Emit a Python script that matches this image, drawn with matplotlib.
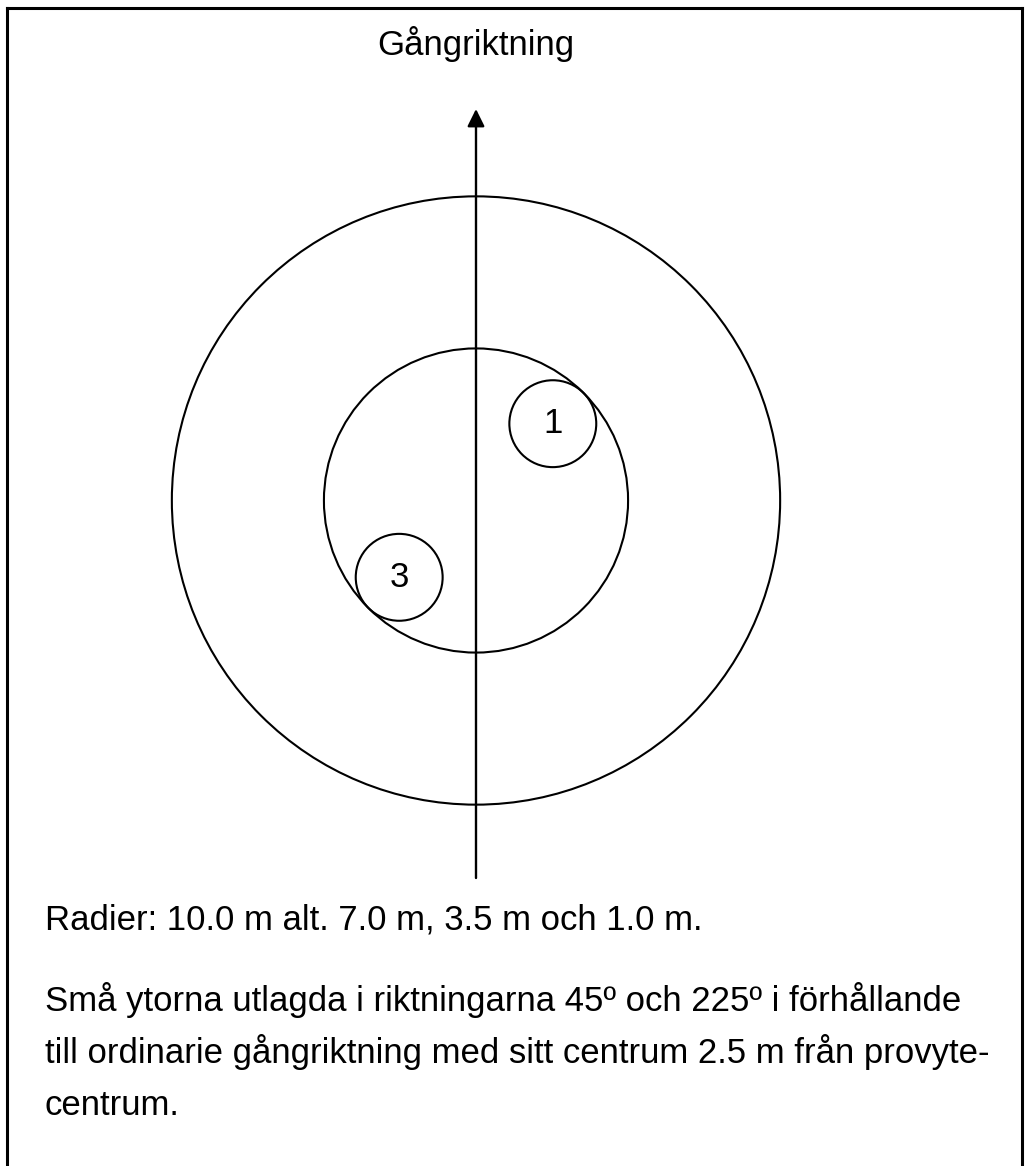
import matplotlib
matplotlib.use("Agg")
import matplotlib.pyplot as plt
from matplotlib.patches import Circle
import numpy as np

plt.rcParams['font.family'] = ['Liberation Sans', 'DejaVu Sans']

# plot radii in metres (outer 7.0 m, inner 3.5 m)
big_radii = [7.0, 3.5]
# small plots: bearing (deg from walking direction), distance from centre, radius
small_labels = ["1", "3"]
small_angles = [45, 225]
small_dist = [2.5, 2.5]
small_radius = [1.0, 1.0]

title = "Gångriktning"
note1 = "Radier: 10.0 m alt. 7.0 m, 3.5 m och 1.0 m."
note2 = ["Små ytorna utlagda i riktningarna 45º och 225º i förhållande",
         "till ordinarie gångriktning med sitt centrum 2.5 m från provyte-",
         "centrum."]

W, H = 1025, 1166
fig = plt.figure(figsize=(W / 100, H / 100), dpi=100)
ax = fig.add_axes([0, 0, 1, 1])

# pixels per metre and plot centre in pixels
s = 43.45
cx, cy = 476, 500.5
ax.set_xlim(-cx / s, (W - cx) / s)
ax.set_ylim(-(H - cy) / s, cy / s)
ax.set_aspect('equal')
ax.axis('off')

for r in big_radii:
    ax.add_patch(Circle((0, 0), r, fill=False, lw=1.5, color='black'))

for lab, a, d, r in zip(small_labels, small_angles, small_dist, small_radius):
    x = d * np.sin(np.radians(a))
    y = d * np.cos(np.radians(a))
    ax.add_patch(Circle((x, y), r, fill=False, lw=1.5, color='black'))
    ax.text(x, y, lab, ha='center', va='center', fontsize=25)

# walking direction arrow
ax.annotate("", xy=(0, (cy - 109) / s), xytext=(0, (cy - 878) / s),
            arrowprops=dict(arrowstyle='-|>,head_length=1.05,head_width=0.52',
                            lw=1.7, color='black', shrinkA=0, shrinkB=0))

# frame: top, left, right
fig.add_artist(plt.Line2D([7 / W, 1022 / W], [1 - 8 / H, 1 - 8 / H], lw=2.2, color='black'))
fig.add_artist(plt.Line2D([7 / W, 7 / W], [0, 1 - 8 / H], lw=2.2, color='black'))
fig.add_artist(plt.Line2D([1022 / W, 1022 / W], [0, 1 - 8 / H], lw=2.2, color='black'))

fig.text(cx / W, 1 - 55 / H, title, ha='center', va='baseline', fontsize=25)
fig.text(45 / W, 1 - 929 / H, note1, ha='left', va='baseline', fontsize=25)
for i, line in enumerate(note2):
    fig.text(45 / W, 1 - (1011 + 52 * i) / H, line, ha='left', va='baseline', fontsize=25)

fig.savefig("out.png", dpi=100)
